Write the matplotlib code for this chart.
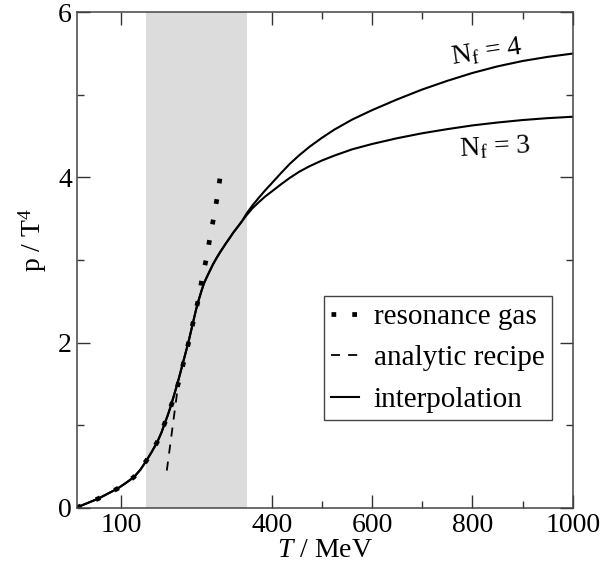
# p/T^4 gegen T: Resonanzgas, analytisches Rezept und Interpolation fuer N_f = 3, 4
import numpy as np
import matplotlib
matplotlib.use('Agg')
import matplotlib.pyplot as plt

plt.rcParams['font.family'] = ['Liberation Serif', 'DejaVu Serif']
plt.rcParams['mathtext.fontset'] = 'custom'
plt.rcParams['mathtext.rm'] = 'Liberation Serif'
plt.rcParams['mathtext.it'] = 'Liberation Serif:italic'

# gemeinsamer Teil der Interpolation (T in MeV, p/T^4)
T_common = [11, 20, 30, 42, 54, 73, 92, 108, 125, 138, 150, 161, 172, 180,
            187, 192, 197, 205, 214, 224, 234, 244, 249, 254, 260, 265, 271,
            277, 283, 290, 297, 304, 310, 317, 323, 330, 340]
p_common = [0.0, 0.025, 0.05, 0.08, 0.11, 0.17, 0.23, 0.295, 0.37, 0.46,
            0.57, 0.68, 0.80, 0.91, 1.03, 1.11, 1.20, 1.36, 1.55, 1.78, 2.01,
            2.27, 2.40, 2.51, 2.63, 2.72, 2.80, 2.875, 2.95, 3.025, 3.095,
            3.16, 3.215, 3.275, 3.33, 3.385, 3.465]

# Fortsetzung fuer N_f = 3 und N_f = 4
T_high = [350, 362, 375, 387, 400, 418, 436, 455, 475, 500, 525, 560, 600,
          650, 700, 750, 800, 850, 900, 950, 1000]
p_nf3 = [3.545, 3.63, 3.705, 3.77, 3.83, 3.915, 3.995, 4.07, 4.135, 4.205,
         4.265, 4.34, 4.405, 4.475, 4.535, 4.585, 4.63, 4.665, 4.695, 4.718,
         4.735]
p_nf4 = [3.565, 3.665, 3.76, 3.845, 3.93, 4.05, 4.165, 4.27, 4.37, 4.48,
         4.58, 4.70, 4.815, 4.945, 5.065, 5.17, 5.265, 5.345, 5.41, 5.46,
         5.50]

# Resonanzgas
T_hrg = [11, 54, 92, 125, 150, 172, 187, 202, 215, 225, 235, 244, 254, 261,
         270, 277, 285, 292, 298]
p_hrg = [0.0, 0.11, 0.23, 0.37, 0.57, 0.80, 1.03, 1.28, 1.53, 1.78, 2.02,
         2.27, 2.53, 2.78, 3.03, 3.28, 3.54, 3.79, 4.05]

# analytisches Rezept
T_rec = [190.7, 202, 214]
p_rec = [0.45, 0.97, 1.52]

# Uebergangsbereich (grau)
band = (150, 350)

fig = plt.figure(figsize=(6.02, 5.72), dpi=100)
ax = fig.add_axes([0.1274, 0.1124, 0.8239, 0.8661])

ax.axvspan(band[0], band[1], color='#dcdcdc', lw=0, zorder=0)

ax.plot(T_common + T_high, p_common + p_nf4, color='black', lw=1.5)
ax.plot(T_common + T_high, p_common + p_nf3, color='black', lw=1.5,
        label='interpolation')
ax.plot(T_rec, p_rec, color='black', lw=1.3, ls=(0, (5, 4.5)),
        label='analytic recipe')
ax.plot(T_hrg, p_hrg, color='black', lw=3.4, ls=(0, (1, 3.4)),
        label='resonance gas')

ax.text(829, 5.52, r'$\mathregular{N_f}$ = 4', fontsize=20, rotation=8.5,
        ha='center', va='center')
ax.text(845, 4.37, r'$\mathregular{N_f}$ = 3', fontsize=20, rotation=3,
        ha='center', va='center')

ax.set_xlim(11, 1000)
ax.set_ylim(0, 6)
ax.set_xticks([100, 400, 600, 800, 1000])
ax.set_xticks([500, 700, 900], minor=True)
ax.set_yticks([0, 2, 4, 6])
ax.set_yticks([1, 3, 5], minor=True)
ax.tick_params(which='both', direction='in', top=True, right=True,
               labelsize=20, color='#333333')
ax.tick_params(which='major', length=9.5, width=1)
ax.tick_params(which='minor', length=4.7, width=1)
for s in ax.spines.values():
    s.set_color('#444444')
    s.set_linewidth(1.1)

ax.set_xlabel(r'$T$ / MeV', fontsize=20, labelpad=0)
ax.set_ylabel(r'p / T$^{4}$', fontsize=20)
ax.yaxis.set_label_coords(-0.055, 0.54)

h, l = ax.get_legend_handles_labels()
leg = ax.legend(h[::-1], l[::-1], loc='upper left',
                bbox_to_anchor=(0.4986, 0.4273), borderaxespad=0,
                fontsize=21, handlelength=0.96, handletextpad=0.5,
                labelspacing=0.52, borderpad=0.25, fancybox=False,
                framealpha=1)
leg.get_frame().set_edgecolor('#444444')
leg.get_frame().set_linewidth(1.0)

fig.savefig('out.png', dpi=100)
